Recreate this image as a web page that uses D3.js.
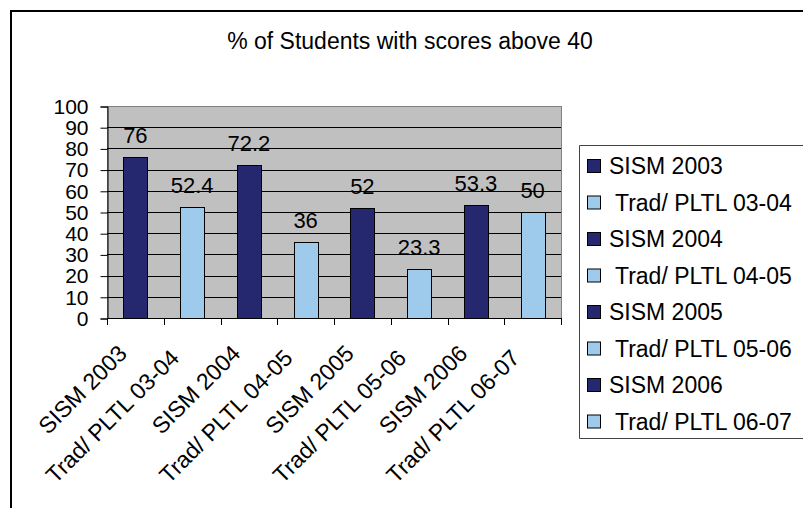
<!DOCTYPE html>
<html>
<head>
<meta charset="utf-8">
<script src="https://cdn.jsdelivr.net/npm/d3@7"></script>
<style>
html,body{margin:0;padding:0;background:#fff;overflow:hidden;width:803px;height:508px;}
svg{display:block;overflow:hidden;font-family:"Liberation Sans",Arial,sans-serif;}
text{white-space:pre;}
</style>
</head>
<body>
<svg id="chart" width="803" height="508"></svg>
<script>
const title = "% of Students with scores above 40";
const categories = ["SISM 2003","Trad/ PLTL 03-04 ","SISM 2004","Trad/ PLTL 04-05 ","SISM 2005","Trad/ PLTL 05-06 ","SISM 2006","Trad/ PLTL 06-07 "];
const legendLabels = ["SISM 2003"," Trad/ PLTL 03-04","SISM 2004"," Trad/ PLTL 04-05","SISM 2005"," Trad/ PLTL 05-06","SISM 2006"," Trad/ PLTL 06-07"];
const values = [76, 52.4, 72.2, 36, 52, 23.3, 53.3, 50];
const valueLabels = ["76","52.4","72.2","36","52","23.3","53.3","50"];
const yTicks = [0,10,20,30,40,50,60,70,80,90,100];
const colors = ["#25276f","#9ecbec","#25276f","#9ecbec","#25276f","#9ecbec","#25276f","#9ecbec"];

const W = 803, H = 508;
const svg = d3.select("#chart");
const plot = {left:107, right:561, top:106, bottom:318};

// outer chart border (right and bottom edges fall outside the picture)
svg.append("path").attr("d",`M11,${H} V11 H${W}`)
  .attr("fill","none").attr("stroke","#000").attr("stroke-width",2);

svg.append("text").attr("x",410).attr("y",49).attr("text-anchor","middle")
  .attr("font-size",23).attr("fill","#000").text(title);

const x = d3.scaleBand().domain(categories).range([plot.left, plot.right]).paddingInner(0).paddingOuter(0);
const y = d3.scaleLinear().domain([0,100]).range([plot.bottom, plot.top]);

// plot area
svg.append("rect").attr("x",plot.left+0.5).attr("y",plot.top+0.5)
  .attr("width",plot.right-plot.left).attr("height",plot.bottom-plot.top)
  .attr("fill","#c0c0c0").attr("stroke","#808080").attr("stroke-width",1);

// gridlines
svg.append("g").selectAll("line").data(yTicks.filter(d=>d>0 && d<100)).join("line")
  .attr("x1",plot.left).attr("x2",plot.right)
  .attr("y1",d=>Math.round(y(d))+0.5).attr("y2",d=>Math.round(y(d))+0.5)
  .attr("stroke","#000").attr("stroke-width",1);

// y axis
const yAxis = svg.append("g").attr("transform",`translate(${plot.left+0.5},0.5)`)
  .call(d3.axisLeft(y).tickValues(yTicks).tickSize(7).tickPadding(12).tickFormat(d3.format("d")));
yAxis.select(".domain").attr("stroke","#000");
yAxis.selectAll("line").attr("stroke","#000");
yAxis.selectAll("text").attr("font-size",21).attr("font-family","Liberation Sans, Arial, sans-serif").attr("fill","#000");

// bars
const bw = 24;
svg.append("g").selectAll("rect").data(values).join("rect")
  .attr("x",(d,i)=>Math.round(x(categories[i]) + x.bandwidth()/2 - bw/2)+0.5)
  .attr("y",d=>Math.round(y(d))+0.5)
  .attr("width",bw)
  .attr("height",d=>Math.round(y(0))-Math.round(y(d)))
  .attr("fill",(d,i)=>colors[i])
  .attr("stroke","#000").attr("stroke-width",1);

// value labels
svg.append("g").selectAll("text").data(values).join("text")
  .attr("x",(d,i)=>x(categories[i]) + x.bandwidth()/2)
  .attr("y",d=>y(d)-14)
  .attr("text-anchor","middle").attr("font-size",22).attr("fill","#000")
  .text((d,i)=>valueLabels[i]);

// x axis line & ticks
const xAxisG = svg.append("g");
xAxisG.append("line").attr("x1",plot.left).attr("x2",plot.right+1)
  .attr("y1",plot.bottom+0.5).attr("y2",plot.bottom+0.5).attr("stroke","#000");
const bounds = d3.range(categories.length+1).map(i=>plot.left + i*x.step());
xAxisG.selectAll("line.tick").data(bounds).join("line").attr("class","tick")
  .attr("x1",d=>Math.round(d)+0.5).attr("x2",d=>Math.round(d)+0.5)
  .attr("y1",plot.bottom).attr("y2",plot.bottom+7).attr("stroke","#000");
xAxisG.selectAll("text").data(categories).join("text")
  .attr("transform",d=>`translate(${x(d)+x.bandwidth()/2-7},${355}) rotate(-45)`)
  .attr("text-anchor","end").attr("font-size",23).attr("fill","#000")
  .text(d=>d);

// legend (right edge falls outside the picture)
const lg = svg.append("g");
lg.append("path").attr("d",`M${W},145.5 H579.5 V438.5 H${W}`)
  .attr("fill","#fff").attr("stroke","#444").attr("stroke-width",1);
const rowH = 36.5;
const items = lg.selectAll("g.item").data(legendLabels).join("g").attr("class","item")
  .attr("transform",(d,i)=>`translate(0,${174 + i*rowH})`);
items.append("rect").attr("x",587.5).attr("y",-14.5).attr("width",13).attr("height",13)
  .attr("fill",(d,i)=>colors[i]).attr("stroke","#000").attr("stroke-width",1);
items.append("text").attr("x",609).attr("y",0).attr("font-size",23).attr("fill","#000").text(d=>d);
</script>
</body>
</html>
